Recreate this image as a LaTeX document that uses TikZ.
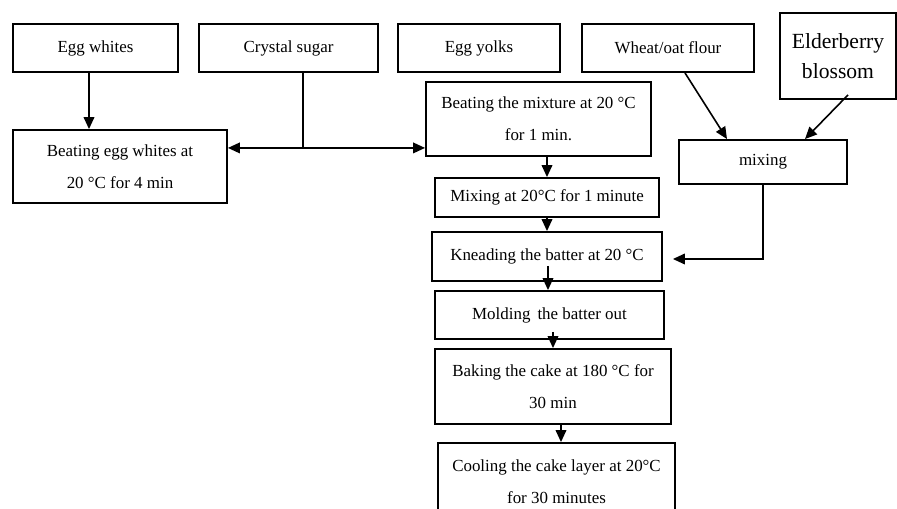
\documentclass[tikz,border=0pt]{standalone}
\usepackage{fontspec}
\setmainfont{Liberation Serif}
\usetikzlibrary{arrows.meta,calc}
\tikzset{
  box/.style={draw, line width=1.4pt, inner sep=2pt, align=center, font=\fontsize{12.7}{24}\selectfont},
  sz/.style 2 args={minimum width=#1*0.75pt, minimum height=#2*0.75pt},
  conn/.style={line width=1.2pt},
  arr/.style={line width=1.2pt, -{Triangle[length=9pt,width=8pt]}}
}

\begin{document}
\begin{tikzpicture}[x=0.75pt,y=-0.75pt]
	%%%%% START %%%%%
	\useasboundingbox (0,0) rectangle (897,509);
	
	% top row
	\node[box, sz={165}{48}] (egw) at (95.5,48) {Egg whites};
	\node[box, sz={179}{48}] (sug) at (288.5,48) {Crystal sugar};
	\node[box, sz={162}{48}] (egy) at (479,48) {Egg yolks};
	\node[box, sz={172}{48}] (flr) at (668,48) {Wheat/oat flour};
	\node[box, sz={116}{86}, font=\fontsize{16.2}{23}\selectfont] (eld) at (838,56) {Elderberry\\blossom};
	
	% steps
	\node[box, sz={214}{73}] (beatw) at (120,166.5) {Beating egg whites at\\20 °C for 4 min};
	\node[box, sz={225}{74}] (bmix) at (538.5,119) {Beating the mixture at 20 °C\\for 1 min.};
	\node[box, sz={168}{44}] (mix) at (763,162) {mixing};
	\node[box, sz={224}{39}] (mix20) at (547,197.5) {Mixing at 20°C for 1 minute};
	\node[box, sz={230}{49}] (knead) at (547,256.5) {Kneading the batter at 20 °C};
	\node[box, sz={229}{48}] (mold) at (549.5,315) {Molding\, the batter out};
	\node[box, sz={236}{75}] (bake) at (553,386.5) {Baking the cake at 180 °C for\\30 min};
	\node[box, sz={237}{78}] (cool) at (556.5,482) {Cooling the cake layer at 20°C\\for 30 minutes};
	
	% connectors
	\draw[arr] ($(egw.south)+(-6.5,0)$) -- ($(beatw.north)+(-31,0)$);
	\coordinate (sj) at ($(sug.south)+(14.5,75)$);
	\draw[conn] ($(sug.south)+(14.5,0)$) -- (sj);
	\draw[arr] (sj) -- (sj -| beatw.east);
	\draw[arr] (sj) -- (sj -| bmix.west);
	\draw[arr] ($(flr.south)+(17,0)$) -- ($(mix.north)+(-36,0)$);
	\draw[arr] ($(eld.south)+(10,-5)$) -- ($(mix.north)+(42,0)$);
	\draw[arr] (bmix.south -| mix20) -- (mix20.north);
	\draw[arr] (mix20.south) -- (knead.north);
	\draw[arr] ($(knead.south)+(1,-16)$) -- ($(mold.north)+(-1.5,0)$);
	\draw[arr] ($(mold.south)+(3.5,-8)$) -- (bake.north);
	\draw[arr] ($(bake.south)+(8,0)$) -- ($(cool.north)+(4.5,0)$);
	\draw[arr] (mix.south) |- ($(knead.east)+(10,2.5)$);
	
	%%%%% END %%%%%
\end{tikzpicture}
\end{document}
